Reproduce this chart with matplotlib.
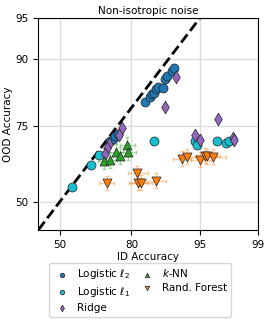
import numpy as np
import matplotlib
matplotlib.use('Agg')
import matplotlib.pyplot as plt
from statistics import NormalDist

# accuracies in percent, (ID, OOD)
l2_id = [84.2, 85.5, 86.1, 86.5, 87.0, 87.6, 88.8, 89.1, 89.7, 90.7, 91.0, 72.4, 73.3, 74.3, 75.2]
l2_ood = [81.4, 82.7, 83.3, 83.6, 84.3, 84.8, 84.7, 86.5, 87.0, 88.0, 88.4, 70.7, 71.3, 72.1, 72.9]

l1_id = [55.5, 64.4, 67.9, 86.5, 94.4, 94.7, 96.8, 97.5, 97.7]
l1_ood = [55.2, 63.0, 66.1, 70.8, 70.6, 69.5, 70.6, 70.1, 70.7]

ridge_id = [91.5, 89.1, 96.9, 76.9, 75.6, 71.8, 70.9, 70.1, 94.4, 95.0, 97.9, 98.0]
ridge_ood = [86.9, 80.3, 77.1, 74.5, 72.6, 69.7, 68.5, 66.7, 72.6, 70.9, 71.6, 71.1]

knn_id = [70.0, 72.3, 74.5, 76.2, 78.6, 78.7]
knn_ood = [64.2, 64.6, 67.2, 66.0, 69.3, 67.3]
knn_xerr = [2.7, 2.7, 2.7, 2.7, 2.7, 2.7]
knn_yerr = [2.7, 2.7, 2.7, 2.7, 2.7, 2.7]

rf_id = [70.9, 81.9, 82.1, 83.0, 87.0, 92.4, 93.3, 95.0, 95.6, 95.8, 96.4]
rf_ood = [56.7, 60.1, 56.8, 56.8, 57.5, 65.0, 65.6, 64.7, 66.0, 65.8, 65.7]
rf_xerr = [3.0, 3.0, 3.0, 3.0, 2.5, 1.5, 1.4, 1.2, 1.2, 1.2, 1.1]
rf_yerr = [2.5, 2.5, 2.5, 2.5, 2.5, 2.5, 2.5, 2.5, 2.5, 2.5, 2.5]

xticks = [50, 80, 95, 99]
yticks = [50, 75, 90, 95]

nd = NormalDist()
_ppf = np.vectorize(nd.inv_cdf, otypes=[float])
_cdf = np.vectorize(nd.cdf, otypes=[float])


def probit(v):
    v = np.clip(np.asarray(v, dtype=float) / 100.0, 1e-7, 1 - 1e-7)
    return _ppf(np.nan_to_num(v, nan=0.5))


def probit_inv(z):
    return _cdf(np.asarray(z, dtype=float)) * 100.0


plt.rcParams['font.size'] = 7.5
fig = plt.figure(figsize=(2.7, 3.27), dpi=100)
ax = fig.add_axes([0.142, 0.297, 0.812, 0.647])
ax.set_xscale('function', functions=(probit, probit_inv))
ax.set_yscale('function', functions=(probit, probit_inv))

ax.plot([40, 99], [40, 99], 'k--', lw=2, zorder=1)

ec = '#222222'
ax.scatter(l2_id, l2_ood, s=42, color='tab:blue', edgecolor=ec, linewidth=0.5,
           label=r'Logistic $\ell_2$', zorder=3)
ax.scatter(l1_id, l1_ood, s=42, color='tab:cyan', edgecolor=ec, linewidth=0.5,
           label=r'Logistic $\ell_1$', zorder=3)
ax.scatter(ridge_id, ridge_ood, s=42, marker='d', color='tab:purple', edgecolor=ec,
           linewidth=0.5, label='Ridge', zorder=3)
ax.errorbar(knn_id, knn_ood, xerr=knn_xerr, yerr=knn_yerr, fmt='none',
            ecolor='tab:green', alpha=0.4, capsize=1.5, elinewidth=1, zorder=2)
ax.scatter(knn_id, knn_ood, s=42, marker='^', color='tab:green', edgecolor=ec,
           linewidth=0.5, label='$k$-NN', zorder=3)
ax.errorbar(rf_id, rf_ood, xerr=rf_xerr, yerr=rf_yerr, fmt='none',
            ecolor='tab:orange', alpha=0.4, capsize=1.5, elinewidth=1, zorder=2)
ax.scatter(rf_id, rf_ood, s=42, marker='v', color='tab:orange', edgecolor=ec,
           linewidth=0.5, label='Rand. Forest', zorder=3)

ax.set_xlim(40, 99)
ax.set_ylim(40, 95)
ax.set_xticks(xticks)
ax.set_xticklabels([str(t) for t in xticks])
ax.set_yticks(yticks)
ax.set_yticklabels([str(t) for t in yticks])
ax.minorticks_off()
ax.grid(True, color='#dddddd', lw=1)
ax.set_axisbelow(True)

ax.set_title('Non-isotropic noise', fontsize=7.5, pad=3)
ax.set_xlabel('ID Accuracy', labelpad=2)
ax.set_ylabel('OOD Accuracy', labelpad=2)

fig.legend(loc='lower center', bbox_to_anchor=(0.52, 0.015), ncol=2, markerscale=0.5,
           fontsize=7.5, handlelength=1.6, handletextpad=0.6, columnspacing=0.9,
           labelspacing=0.35)

fig.savefig('out.png', dpi=100)
